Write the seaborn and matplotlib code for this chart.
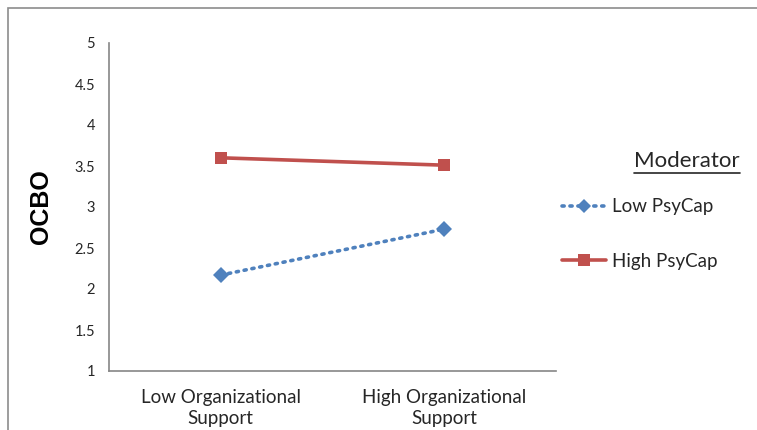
import matplotlib
matplotlib.use("Agg")
import matplotlib.pyplot as plt
import seaborn as sns
import pandas as pd
from matplotlib.lines import Line2D
from matplotlib.patches import Rectangle

categories = ["Low Organizational\nSupport", "High Organizational\nSupport"]
low_psycap = [2.17, 2.73]
high_psycap = [3.60, 3.51]
series_names = ["Low PsyCap", "High PsyCap"]
y_ticks = [1, 1.5, 2, 2.5, 3, 3.5, 4, 4.5, 5]
y_tick_labels = ["1", "1.5", "2", "2.5", "3", "3.5", "4", "4.5", "5"]

sns.set_style("white")
plt.rcParams["font.family"] = ["Lato", "DejaVu Sans"]

BLUE = "#4F81BD"
RED = "#C0504D"
AXIS = "#868686"
TXT = "#262626"

fig = plt.figure(figsize=(7.57, 4.30), dpi=100)
ax = fig.add_axes([109 / 757, 59 / 430, 447 / 757, 328 / 430])

df = pd.DataFrame({
    "x": [0, 1, 0, 1],
    "y": low_psycap + high_psycap,
    "series": [series_names[0]] * 2 + [series_names[1]] * 2,
})

sns.lineplot(data=df[df.series == series_names[0]], x="x", y="y", ax=ax,
             color=BLUE, lw=2.6, linestyle=(0, (0.6, 1.6)), dash_capstyle="round",
             marker="D", markersize=8, markeredgewidth=0, legend=False)
sns.lineplot(data=df[df.series == series_names[1]], x="x", y="y", ax=ax,
             color=RED, lw=2.6, marker="s", markersize=9, markeredgewidth=0, legend=False)

ax.set_xlim(-0.5, 1.5)
ax.set_ylim(1, 5)
ax.set_yticks(y_ticks)
ax.set_yticklabels(y_tick_labels)
ax.set_xticks([-0.5, 0.5, 1.5])
ax.set_xticklabels([])
ax.set_xticks([0, 1], minor=True)
ax.set_xticklabels(categories, minor=True)
ax.tick_params(axis="x", which="major", length=5, width=1, color=AXIS, direction="out")
ax.tick_params(axis="x", which="minor", length=0, pad=13, labelsize=13.5, labelcolor=TXT)
ax.tick_params(axis="y", length=5, width=1, color=AXIS, direction="out", pad=5,
               labelsize=10.5, labelcolor=TXT)
for lab in ax.get_xticklabels(minor=True):
    lab.set_linespacing(1.3)
ax.set_xlabel("")
ax.set_ylabel("OCBO", fontsize=18, fontweight="bold", color="black",
              family=["Liberation Sans", "DejaVu Sans"])
ax.yaxis.set_label_coords(-0.126, 0.5)

for s in ["top", "right"]:
    ax.spines[s].set_visible(False)
for s in ["left", "bottom"]:
    ax.spines[s].set_color(AXIS)
    ax.spines[s].set_linewidth(1.2)

# outer chart border
fig.patches.append(Rectangle((8 / 757, -0.2), 1.2, 1.2 - 8 / 430,
                             transform=fig.transFigure, fill=False,
                             edgecolor="#8c8c8c", lw=1.2))

# legend
fig.text(687 / 757, 1 - 161 / 430, "Moderator", ha="center", va="center",
         fontsize=16, color=TXT)
fig.add_artist(Line2D([634 / 757, 740 / 757], [1 - 173 / 430, 1 - 173 / 430],
                      color=TXT, lw=1.2, transform=fig.transFigure))
handles = [
    Line2D([], [], color=BLUE, lw=2.6, linestyle=(0, (0.6, 1.6)), dash_capstyle="round",
           marker="D", markersize=7, markeredgewidth=0),
    Line2D([], [], color=RED, lw=2.6, marker="s", markersize=8, markeredgewidth=0),
]
fig.legend(handles, series_names, loc="upper left",
           bbox_to_anchor=(553 / 757, 1 - 189 / 430), bbox_transform=fig.transFigure,
           frameon=False, fontsize=13.5, labelcolor=TXT, handlelength=2.3,
           handletextpad=0.35, labelspacing=2.0, borderpad=0)

fig.savefig("out.png", dpi=100, facecolor="white")
